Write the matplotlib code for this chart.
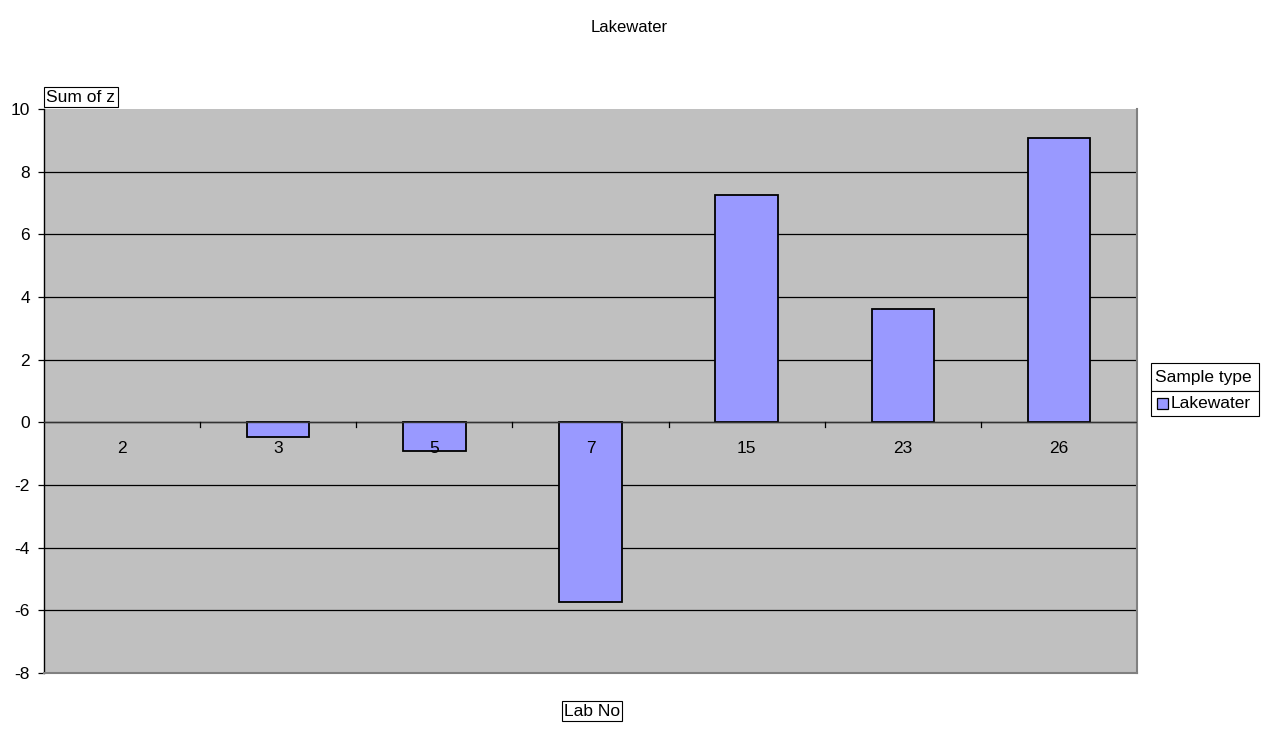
import matplotlib
matplotlib.use("Agg")
import matplotlib.pyplot as plt
from matplotlib.patches import Rectangle

plt.rcParams['font.family'] = ['Liberation Sans', 'DejaVu Sans']

labs = ["2", "3", "5", "7", "15", "23", "26"]
sum_z = [0.0, -0.48, -0.93, -5.72, 7.25, 3.62, 9.08]
yticks = [-8, -6, -4, -2, 0, 2, 4, 6, 8, 10]

FS = 12.5
W, H = 1268, 733
fig = plt.figure(figsize=(W / 100, H / 100), dpi=100)
fig.patch.set_facecolor("white")

x0, x1, yt, yb = 44, 1137, 109, 673
ax = fig.add_axes([x0 / W, 1 - yb / H, (x1 - x0) / W, (yb - yt) / H])
ax.set_facecolor("#c0c0c0")

xs = list(range(len(labs)))
lws = [0 if v == 0 else 1.3 for v in sum_z]
ax.bar(xs, sum_z, width=0.4, color="#9999ff", edgecolor="black", linewidth=lws, zorder=3)

ax.set_xlim(-0.5, len(labs) - 0.5)
ax.set_ylim(-8, 10)
ax.set_yticks(yticks)
ax.set_yticklabels([str(v) for v in yticks], fontsize=FS)
for v in yticks:
    if v not in (-8, 10):
        ax.axhline(v, color="black", lw=0.9, zorder=1)
ax.axhline(0, color="#333333", lw=1.0, zorder=4)

ax.set_xticks([])
for i, l in enumerate(labs):
    ax.text(i, -0.85, l, ha="center", va="center", fontsize=FS, zorder=5)
for i in range(1, len(labs)):
    ax.plot([i - 0.5, i - 0.5], [0, -0.15], color="black", lw=0.9, zorder=5)

ax.spines["top"].set_visible(False)
ax.spines["left"].set_color("black")
ax.spines["left"].set_linewidth(1.0)
ax.spines["right"].set_color("#808080")
ax.spines["right"].set_linewidth(1.5)
ax.spines["bottom"].set_color("#808080")
ax.spines["bottom"].set_linewidth(1.5)
ax.tick_params(axis="y", length=4, width=0.9, pad=6, direction="out")

fig.text(629 / W, 1 - 27 / H, "Lakewater", ha="center", va="center", fontsize=12)

box = dict(boxstyle="square,pad=0.12", facecolor="white", edgecolor="black", lw=0.8)
fig.text(81 / W, 1 - 97 / H, "Sum of z", ha="center", va="center", fontsize=FS, bbox=box)
fig.text(592 / W, 1 - 711 / H, "Lab No", ha="center", va="center", fontsize=FS, bbox=box)

lx0, lx1, ly0, lsep, ly1 = 1151, 1259, 363, 391, 416
def fr(x, y, w, h, **kw):
    fig.patches.append(Rectangle((x / W, 1 - (y + h) / H), w / W, h / H,
                                 transform=fig.transFigure, **kw))
fr(lx0, ly0, lx1 - lx0, lsep - ly0, facecolor="white", edgecolor="black", lw=0.8)
fr(lx0, lsep, lx1 - lx0, ly1 - lsep, facecolor="white", edgecolor="black", lw=0.8)
fig.text((lx0 + 4) / W, 1 - (ly0 + lsep) / 2 / H, "Sample type", ha="left", va="center", fontsize=FS)
fr(1157, 398, 11, 11, facecolor="#9999ff", edgecolor="black", lw=0.9)
fig.text(1171 / W, 1 - (lsep + ly1) / 2 / H, "Lakewater", ha="left", va="center", fontsize=FS)

fig.savefig("out.png", dpi=100)
